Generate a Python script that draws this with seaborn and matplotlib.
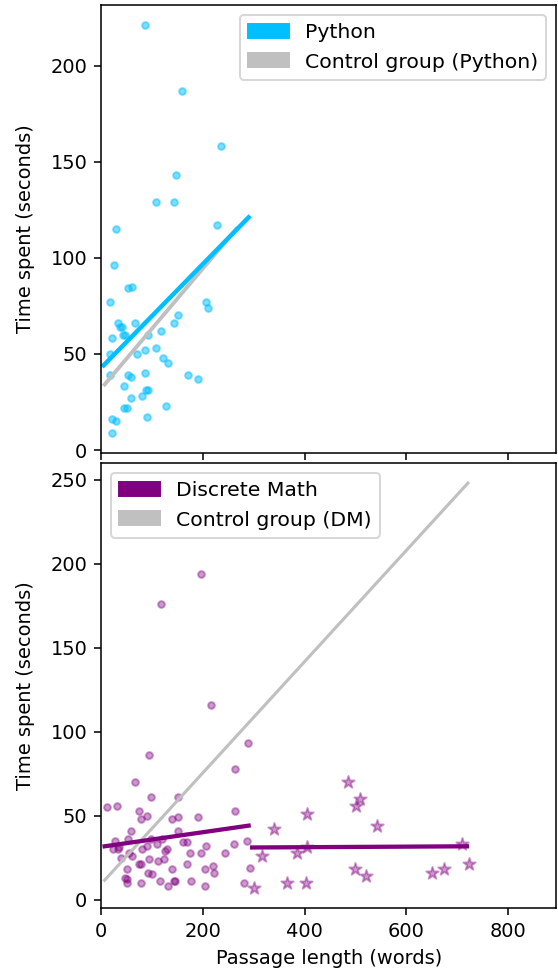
import matplotlib
matplotlib.use("Agg")
import matplotlib.pyplot as plt
from matplotlib.patches import Patch
import seaborn as sns
import pandas as pd

# --- Python course: passage length vs time spent ---
py_x = [86, 159, 236, 147, 107, 143, 30, 227, 25, 53, 61, 18, 206, 211, 151, 143, 33, 41, 66, 37,
        43, 47, 21, 118, 92, 17, 86, 107, 71, 122, 131, 17, 53, 58, 86, 171, 191, 46, 93, 89,
        81, 58, 46, 50, 127, 21, 29, 90, 21]
py_y = [221, 187, 158, 143, 129, 129, 115, 117, 96, 84, 85, 77, 77, 74, 70, 66, 66, 64, 66, 64,
        60, 60, 58, 62, 60, 50, 52, 53, 50, 48, 45, 39, 39, 38, 40, 39, 37, 33, 31, 31,
        28, 27, 22, 22, 23, 16, 15, 17, 9]

# regression lines (endpoints)
py_fit_x = [5, 290]
py_fit_y = [44, 121]
py_ctrl_x = [7, 266]
py_ctrl_y = [34, 115]

# --- Discrete Math course ---
dm_x = [196, 118, 216, 289, 95, 263, 67, 99, 151, 11, 31, 74, 263, 90, 78, 191, 139, 152, 59, 152,
        27, 52, 99, 287, 36, 119, 168, 161, 261, 90, 206, 60, 197, 174, 243, 39, 74, 95, 112, 123,
        168, 79, 220, 50, 93, 139, 293, 204, 221, 51, 51, 79, 115, 131, 143, 146, 176, 204, 280, 48,
        23, 81, 125, 34, 55, 110, 130, 100]
dm_y = [194, 176, 116, 93, 86, 78, 70, 61, 61, 55, 56, 53, 53, 50, 48, 49, 48, 49, 41, 41,
        35, 36, 36, 35, 31, 36, 34, 34, 33, 32, 32, 26, 28, 28, 28, 25, 21, 24, 23, 24,
        21, 21, 20, 18, 16, 18, 19, 18, 16, 12, 10, 10, 11, 8, 11, 11, 11, 8, 10, 13,
        30, 30, 29, 30, 28, 33, 30, 15]
dm_star_x = [485, 509, 501, 405, 542, 340, 317, 386, 405, 710, 723, 500, 521, 651, 675, 366, 402, 300]
dm_star_y = [70, 60, 56, 51, 44, 42, 26, 28, 31, 33, 21, 18, 14, 16, 18, 10, 10, 7]

dm_fit1_x = [7, 290]
dm_fit1_y = [31.7, 44]
dm_fit2_x = [297, 719]
dm_fit2_y = [31, 31.7]
dm_ctrl_x = [7, 721]
dm_ctrl_y = [11.5, 248]

py_color = "#00BFFF"
dm_color = "#800080"
ctrl_color = "#C0C0C0"

fig = plt.figure(figsize=(4, 7), dpi=139.6)
ax1 = fig.add_axes([0.181, 0.5363, 0.8154, 0.4585])
ax2 = fig.add_axes([0.181, 0.0706, 0.8154, 0.4555], sharex=ax1)

df_py = pd.DataFrame({"x": py_x, "y": py_y})
sns.scatterplot(data=df_py, x="x", y="y", ax=ax1, color=py_color, alpha=0.5,
                s=12, edgecolor=py_color, linewidth=1.0)
sns.lineplot(x=py_ctrl_x, y=py_ctrl_y, ax=ax1, color=ctrl_color, linewidth=2.0)
sns.lineplot(x=py_fit_x, y=py_fit_y, ax=ax1, color=py_color, linewidth=2.3)
ax1.legend(handles=[Patch(color=py_color, label="Python"),
                    Patch(color=ctrl_color, label="Control group (Python)")],
           loc="upper right", fontsize=10.5)
ax1.set_ylabel("Time spent (seconds)", labelpad=8)
ax1.set_xlabel("")
ax1.tick_params(labelbottom=False)

df_dm = pd.DataFrame({"x": dm_x, "y": dm_y})
df_st = pd.DataFrame({"x": dm_star_x, "y": dm_star_y})
sns.scatterplot(data=df_dm, x="x", y="y", ax=ax2, color=dm_color, alpha=0.4,
                s=12, edgecolor=dm_color, linewidth=1.0)
sns.scatterplot(data=df_st, x="x", y="y", ax=ax2, color=dm_color, alpha=0.4,
                marker="*", s=45, edgecolor=dm_color, linewidth=1.0)
sns.lineplot(x=dm_ctrl_x, y=dm_ctrl_y, ax=ax2, color=ctrl_color, linewidth=1.6)
sns.lineplot(x=dm_fit1_x, y=dm_fit1_y, ax=ax2, color=dm_color, linewidth=2.2)
sns.lineplot(x=dm_fit2_x, y=dm_fit2_y, ax=ax2, color=dm_color, linewidth=2.2)
ax2.legend(handles=[Patch(color=dm_color, label="Discrete Math"),
                    Patch(color=ctrl_color, label="Control group (DM)")],
           loc="upper left", fontsize=10.5)
ax2.set_ylabel("Time spent (seconds)", labelpad=8)
ax2.set_xlabel("Passage length (words)")
ax2.set_xlim(0, 895)
ax2.set_xticks([0, 200, 400, 600, 800])
ax1.set_yticks([0, 50, 100, 150, 200])
ax2.set_yticks([0, 50, 100, 150, 200, 250])

fig.savefig("out.png", dpi=139.6)
